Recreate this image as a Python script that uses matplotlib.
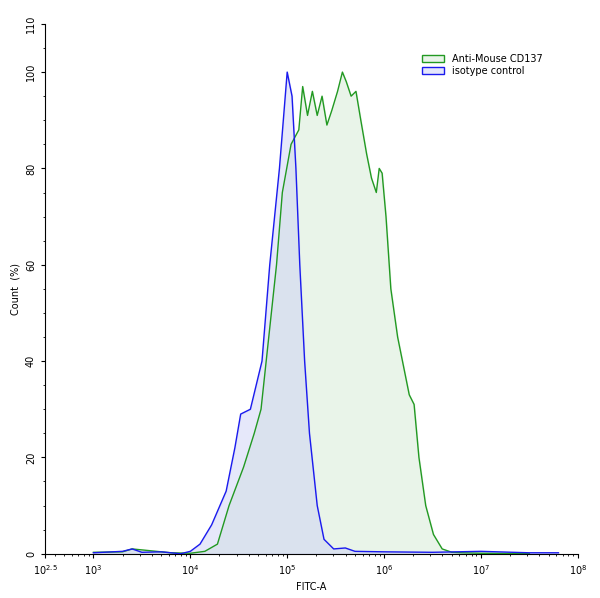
import numpy as np
import matplotlib.pyplot as plt

# log10(FITC-A) positions and count (%)
iso_x = [3.0, 3.3, 3.4, 3.5, 3.7, 3.9, 4.0, 4.1, 4.22, 4.37, 4.46, 4.52, 4.62, 4.74, 4.82,
         4.92, 5.0, 5.05, 5.09, 5.13, 5.18, 5.23, 5.31, 5.38, 5.48, 5.6, 5.7, 6.0, 6.5, 7.0, 7.5, 7.8]
iso_y = [0.2, 0.5, 1.0, 0.3, 0.4, 0.0, 0.5, 2.0, 6, 13, 22, 29, 30, 40, 60,
         80, 100, 95, 80, 60, 40, 25, 10, 3, 1.0, 1.2, 0.5, 0.4, 0.3, 0.5, 0.2, 0.2]

cd_x = [3.0, 3.3, 3.4, 3.6, 3.8, 4.0, 4.15, 4.28, 4.4, 4.55, 4.66, 4.73, 4.81, 4.89, 4.95,
        5.04, 5.12, 5.16, 5.21, 5.26, 5.31, 5.36, 5.41, 5.46, 5.52, 5.57, 5.61, 5.66, 5.71,
        5.76, 5.82, 5.87, 5.92, 5.95, 5.98, 6.02, 6.07, 6.14, 6.21, 6.26, 6.31, 6.36, 6.43,
        6.51, 6.6, 6.7, 6.8, 7.0, 7.5]
cd_y = [0.3, 0.4, 1.0, 0.6, 0.2, 0.1, 0.5, 2, 10, 18, 25, 30, 45, 60, 75,
        85, 88, 97, 91, 96, 91, 95, 89, 92, 96, 100, 98, 95, 96, 90, 83, 78, 75, 80, 79,
        70, 55, 45, 38, 33, 31, 20, 10, 4, 1.0, 0.3, 0.2, 0.1, 0.0]

iso_lin = 10 ** np.array(iso_x)
cd_lin = 10 ** np.array(cd_x)

fig, ax = plt.subplots(figsize=(6, 5.98), dpi=100)
fig.subplots_adjust(left=0.075, right=0.963, top=0.96, bottom=0.074)

ax.fill_between(cd_lin, cd_y, color="#e9f4e9", zorder=1)
ax.fill_between(iso_lin, iso_y, color="#c8cdf5", alpha=0.45, zorder=2)
ax.plot(cd_lin, cd_y, color="#229922", lw=1.0, zorder=3)
ax.plot(iso_lin, iso_y, color="#1a1aee", lw=1.0, zorder=4)

ax.fill_between([], [], facecolor="#e9f4e9", edgecolor="#229922", label="Anti-Mouse CD137")
ax.fill_between([], [], facecolor="#e4e6fb", edgecolor="#1a1aee", label="isotype control")
ax.legend(loc="upper right", bbox_to_anchor=(0.95, 0.96), frameon=False, fontsize=7,
          handlelength=2.2, handleheight=0.8, labelspacing=0.2)

ax.set_xscale("log")
ax.set_xlim(10 ** 2.5, 1e8)
ax.set_ylim(0, 110)
ticks = [10 ** 2.5, 1e3, 1e4, 1e5, 1e6, 1e7, 1e8]
ax.set_xticks(ticks)
ax.set_xticklabels(["$10^{2.5}$", "$10^3$", "$10^4$", "$10^5$", "$10^6$", "$10^7$", "$10^8$"],
                   fontsize=7)
ax.set_yticks([0, 20, 40, 60, 80, 100, 110])
ax.set_yticks(np.arange(0, 111, 5), minor=True)
ax.set_yticklabels(["0", "20", "40", "60", "80", "100", "110"], fontsize=7, rotation=90, va="center")
ax.tick_params(which="both", direction="out", length=3)
ax.tick_params(which="minor", length=1.5)
ax.set_xlabel("FITC-A", fontsize=7)
ax.set_ylabel("Count  (%)", fontsize=7)
for s in ["top", "right"]:
    ax.spines[s].set_visible(False)

plt.savefig("out.png")
